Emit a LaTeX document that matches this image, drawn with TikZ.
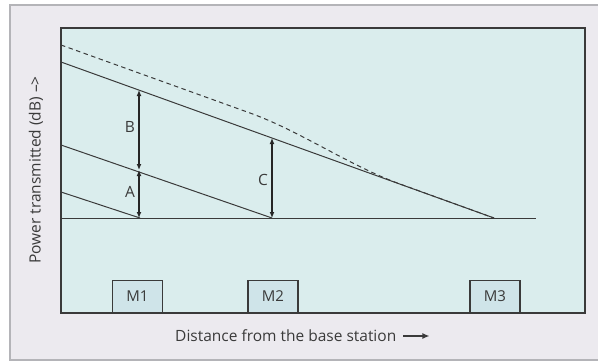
\documentclass[tikz,border=0pt]{standalone}
\usepackage{fontspec}
\setmainfont{Open Sans}
\usetikzlibrary{arrows.meta}
\definecolor{framefill}{HTML}{ECEAEF}
\definecolor{frameline}{HTML}{B4B4B8}
\definecolor{plotfill}{HTML}{DAEDED}
\definecolor{boxfill}{HTML}{CFE4E9}
\definecolor{ink}{HTML}{3A3A3A}
\tikzset{
  plotline/.style={draw=ink, line width=1pt},
  dimarrow/.style={draw=black!85, line width=1.3pt, {Latex[length=6pt,width=5pt]}-{Latex[length=6pt,width=5pt]}},
  mbox/.style={draw=ink, line width=1.1pt, fill=boxfill, minimum width=50pt, minimum height=32pt, inner sep=0pt, anchor=south, font=\fontsize{15}{17}\selectfont, text=ink},
  lbl/.style={font=\fontsize{15.5}{18}\selectfont, text=ink},
}
\begin{document}
\begin{tikzpicture}[x=1pt,y=-1pt]
\useasboundingbox (0,0) rectangle (598,364);
\clip (0,0) rectangle (598,364);
\fill[white] (0,0) rectangle (598,364);
% outer frame
\draw[draw=frameline, line width=1.5pt, fill=framefill] (10,5) rectangle (610,360);
% plot area
\draw[draw=ink, line width=1.3pt, fill=plotfill] (61,28) rectangle (585,313);
% coordinates
\coordinate (base0) at (61,218);
\coordinate (base1) at (536,218);
\coordinate (p1) at (140,218);
\coordinate (p2) at (272,218);
\coordinate (p3) at (494,218);
\coordinate (s1) at (61,192);
\coordinate (s2) at (61,145);
\coordinate (s3) at (61,62);
\coordinate (d0) at (61,45);
\coordinate (d1) at (250,113);
\coordinate (d2) at (400,184);
\coordinate (bTop) at (139,90);
\coordinate (bMid) at (139,170);
\coordinate (bBot) at (139,218);
\coordinate (cTop) at (272,138);
\coordinate (cBot) at (272,218);
% lines
\draw[plotline] (base0) -- (base1);
\draw[plotline] (s1) -- (p1);
\draw[plotline] (s2) -- (p2);
\draw[plotline] (s3) -- (p3);
\draw[plotline, dash pattern=on 4.5pt off 3.5pt] (d0) -- (d1) .. controls (300,131) and (350,166) .. (d2) -- (p3);
% dimension arrows
\draw[dimarrow] (bTop) -- (bMid);
\draw[dimarrow] (bMid) -- (bBot);
\draw[dimarrow] (cTop) -- (cBot);
\node[lbl] (B) at (130,127) {B};
\node[lbl] (A) at (130,192) {A};
\node[lbl] (C) at (263,180) {C};
% boxes
\node[mbox] (M1) at (137.5,313) {M1};
\node[mbox] (M2) at (273,313) {M2};
\node[mbox] (M3) at (495,313) {M3};
% axis labels
\node[lbl, anchor=west, inner sep=0pt] (xl) at (175,336) {Distance from the base station};
\coordinate (xa) at ([xshift=33pt]xl.east);
\draw[draw=ink, line width=1.3pt, -{Latex[length=7pt,width=6pt]}] ([xshift=7pt]xl.east) -- (xa);
\node[lbl, rotate=90] (yl) at (36,170) {Power transmitted (dB) –>};
\end{tikzpicture}
\end{document}
